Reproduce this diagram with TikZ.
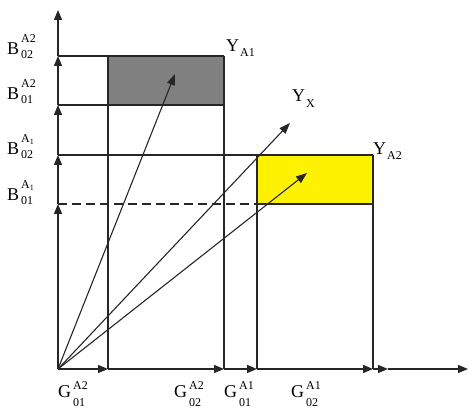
\documentclass[tikz,border=0pt]{standalone}
\usepackage{fontspec}
\setmainfont{Liberation Serif}
\usetikzlibrary{arrows.meta}
\definecolor{boxgray}{RGB}{128,128,128}
\newcommand{\scr}{\fontsize{12}{12}\selectfont}
\newcommand{\aone}{A\raisebox{-2pt}{\fontsize{8}{8}\selectfont 1}}
% base, sup, sub, raise, lower
\newcommand{\supsub}[5]{#1\hspace{2pt}\rlap{\raisebox{#4}{\scr #2}}\raisebox{-#5}{\scr #3}}
\newcommand{\ysub}[3]{#1\hspace{1pt}\raisebox{-#3}{\scr #2}}
\begin{document}
\begin{tikzpicture}[x=1pt,y=-1pt,
  ln/.style={line width=1.1pt,draw=black!85},
  ax/.style={line width=1.3pt,draw=black!85,-{Triangle[length=10pt,width=8pt]}},
  vec/.style={line width=1.1pt,draw=black!85,-{Triangle[length=11pt,width=8pt]}},
  lbl/.style={inner sep=0pt,anchor=base west,font=\fontsize{18}{20}\selectfont}]
\useasboundingbox (0,0) rectangle (469,411);
% coordinates
\coordinate (O) at (58,369);
\coordinate (V1) at (58,204);
\coordinate (V2) at (58,155);
\coordinate (V3) at (58,105);
\coordinate (V4) at (58,56);
\coordinate (V5) at (58,10);
\coordinate (H1) at (108,369);
\coordinate (H2) at (224,369);
\coordinate (H3) at (257,369);
\coordinate (H4) at (373,369);
\coordinate (H5) at (388,369);
\coordinate (H6) at (468,369);
\coordinate (GA) at (108,56);
\coordinate (GB) at (224,105);
\coordinate (GC) at (224,56);
\coordinate (YA) at (257,155);
\coordinate (YB) at (373,204);
\coordinate (YC) at (373,155);
\coordinate (YD) at (257,204);
\coordinate (T1) at (175,74);
\coordinate (T2) at (290,123);
\coordinate (T3) at (307,173);
% filled rectangles
\fill[boxgray] (GA) rectangle (GB);
\fill[yellow] (YA) rectangle (YB);
% grid lines
\draw[ln] (V4) -- (GC);
\draw[ln] (V3) -- (GB);
\draw[ln] (V2) -- (YC);
\draw[ln,dash pattern=on 9pt off 5pt] (V1) -- (YD);
\draw[ln] (YD) -- (YB);
\draw[ln] (GA) -- (H1);
\draw[ln] (GC) -- (H2);
\draw[ln] (YA) -- (H3);
\draw[ln] (YC) -- (H4);
% axes
\draw[ax] (O) -- (V1);
\draw[ax] (V1) -- (V2);
\draw[ax] (V2) -- (V3);
\draw[ax] (V3) -- (V4);
\draw[ax] (V4) -- (V5);
\draw[ax] (O) -- (H1);
\draw[ax] (H1) -- (H2);
\draw[ax] (H2) -- (H3);
\draw[ax] (H3) -- (H4);
\draw[ax] (H4) -- (H5);
\draw[ax] (H5) -- (H6);
% vectors
\draw[vec] (O) -- (T1);
\draw[vec] (O) -- (T2);
\draw[vec] (O) -- (T3);
% labels
\node[lbl] (b4) at (7,55) {\supsub{B}{A2}{02}{12pt}{4pt}};
\node[lbl] (b3) at (7,100) {\supsub{B}{A2}{01}{12pt}{4pt}};
\node[lbl] (b2) at (7,155) {\supsub{B}{\aone}{02}{12pt}{4pt}};
\node[lbl] (b1) at (7,201) {\supsub{B}{\aone}{01}{12pt}{4pt}};
\node[lbl] (ya1) at (226,52) {\ysub{Y}{A1}{5pt}};
\node[lbl] (yx) at (292,102) {\ysub{Y}{X}{6pt}};
\node[lbl] (ya2) at (373,155) {\ysub{Y}{A2}{5pt}};
\node[lbl] (g1) at (58,398) {\supsub{G}{A2}{01}{8pt}{9pt}};
\node[lbl] (g2) at (174,398) {\supsub{G}{A2}{02}{8pt}{9pt}};
\node[lbl] (g3) at (224,398) {\supsub{G}{A1}{01}{8pt}{9pt}};
\node[lbl] (g4) at (291,398) {\supsub{G}{A1}{02}{8pt}{9pt}};
\end{tikzpicture}
\end{document}
